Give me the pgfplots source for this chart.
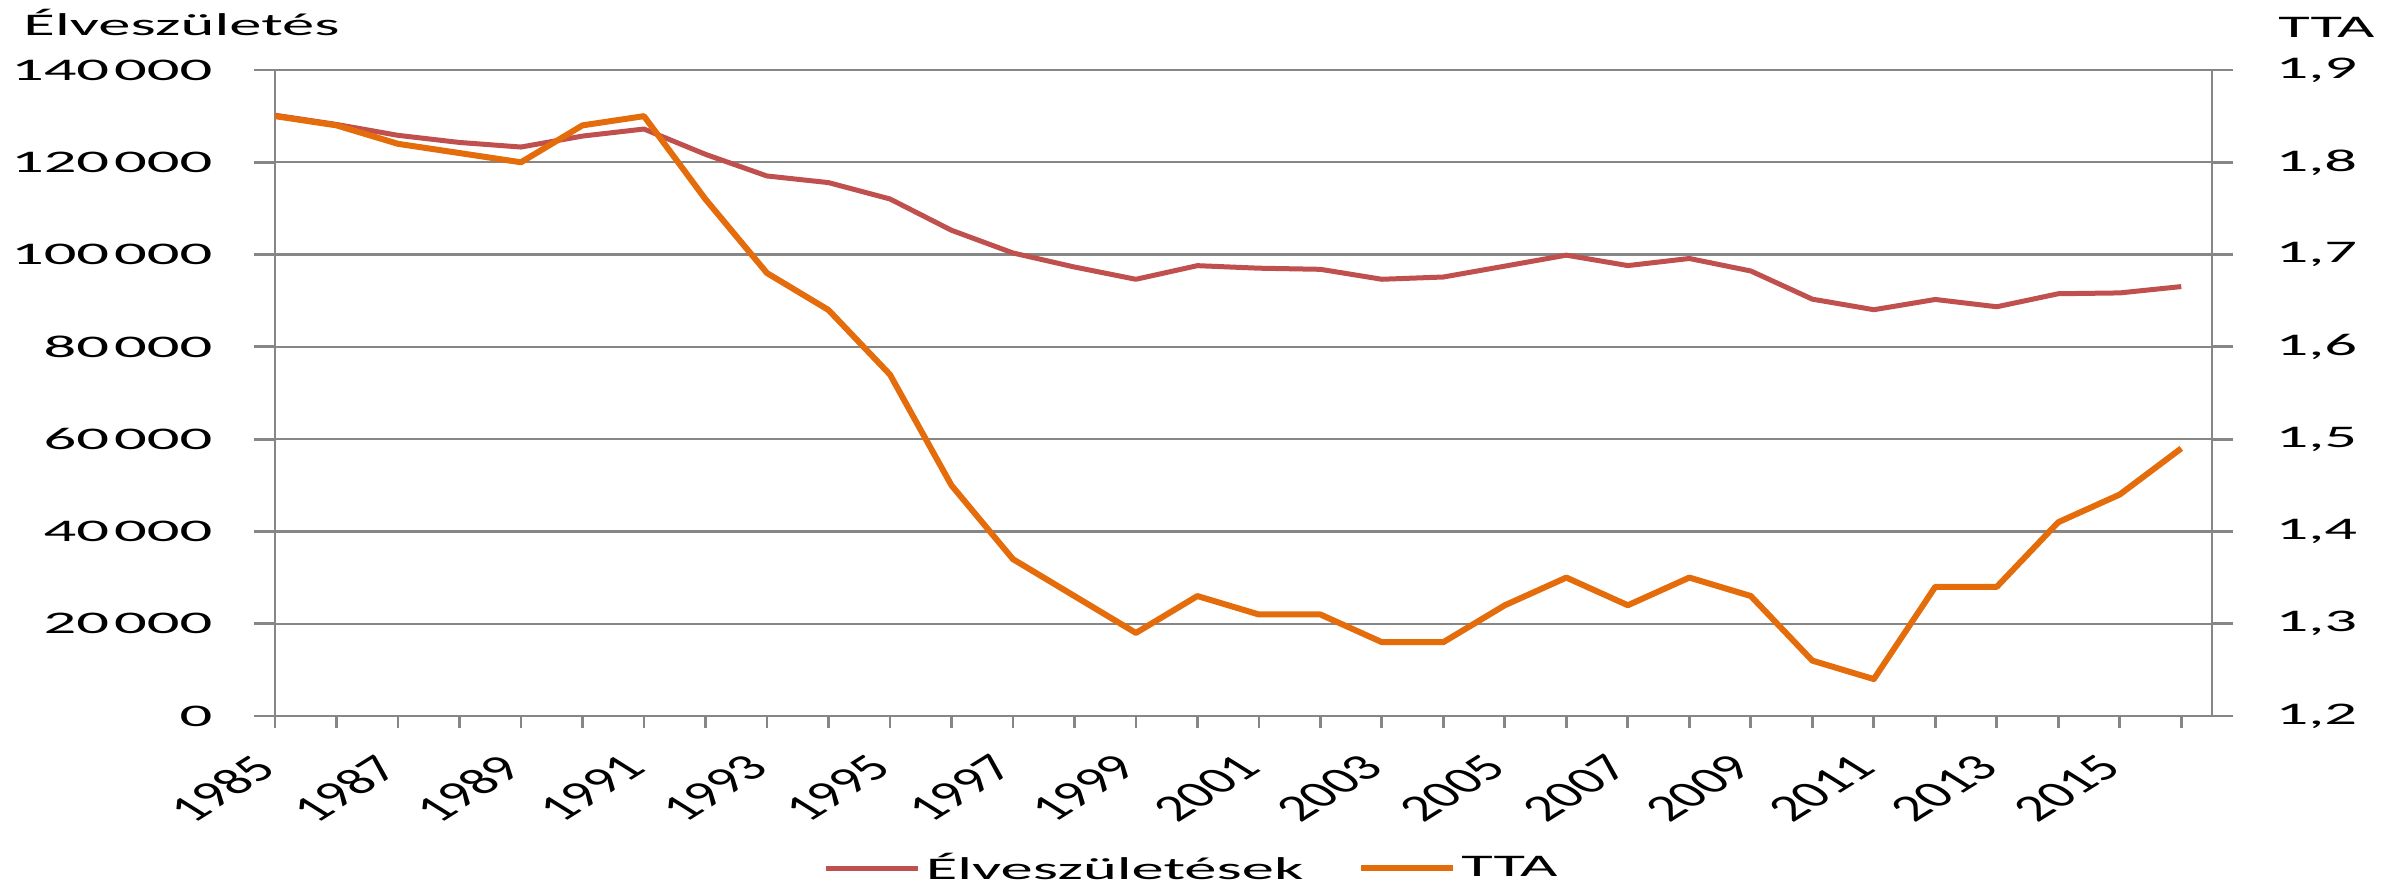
\documentclass[border=0pt]{standalone}
\usepackage{graphicx}
\usepackage{fontspec}
\setmainfont{Carlito}[FakeStretch=2.05]
\newfontfamily\plainfont{Carlito}
\usepackage{pgfplots}
\usepackage{pgfplotstable}
\pgfplotsset{compat=1.18}

\definecolor{births}{RGB}{192,80,77}
\definecolor{tta}{RGB}{228,108,10}
\definecolor{axgray}{RGB}{134,134,134}

% births and total fertility rate (TTA), Hungary
\pgfplotstableread{
year births tta
1985 130200 1.85
1986 128204 1.84
1987 125840 1.82
1988 124296 1.81
1989 123304 1.80
1990 125679 1.84
1991 127207 1.85
1992 121724 1.76
1993 117033 1.68
1994 115598 1.64
1995 112054 1.57
1996 105272 1.45
1997 100350 1.37
1998 97301 1.33
1999 94645 1.29
2000 97597 1.33
2001 97047 1.31
2002 96804 1.31
2003 94647 1.28
2004 95137 1.28
2005 97496 1.32
2006 99871 1.35
2007 97613 1.32
2008 99149 1.35
2009 96442 1.33
2010 90335 1.26
2011 88049 1.24
2012 90269 1.34
2013 88689 1.34
2014 91510 1.41
2015 91690 1.44
2016 93063 1.49
}\hudata

\newcommand{\ts}{\kern2pt}
% year label: turned 45 degrees, then widened like the rest of the chart
\newcommand{\yr}[1]{\scalebox{1.6}[1]{\rotatebox{45}{\plainfont\fontsize{15}{15}\selectfont #1}}}
\tikzset{ylab/.style={anchor=east,inner sep=0pt},
  xlab/.style={anchor=north east,inner sep=0pt}}

\begin{document}
\begin{tikzpicture}
\useasboundingbox (-110pt,-66.8pt) rectangle (844.8pt,286.4pt);
\pgfplotsset{base/.style={width=774.8pt,height=258.4pt,scale only axis,
  xmin=1985,xmax=2016.5,font=\fontsize{12.6}{14}\selectfont,
  /pgf/number format/assume math mode=true,
  axis line style={-,axgray,line width=1.1pt},tick style={axgray,line width=1.1pt},
  tick align=outside}}
% left axis, grid, births, legend
\begin{axis}[base,clip=false,ymin=0,ymax=140000,ytick={0,20000,...,140000},
  yticklabels=\empty,scaled y ticks=false,
  axis x line=none,axis y line*=left,major tick length=8.4pt,
  ymajorgrids,grid style={axgray,line width=0.9pt},
  ylabel={Élveszületés},
  every axis y label/.style={at={(rel axis cs:-0.1301,1.054)},anchor=base west,inner sep=0pt},
  legend columns=2,
  legend style={draw=none,fill=none,at={(0.474,-0.2353)},anchor=center,
    /tikz/every even column/.append style={column sep=20pt},inner sep=0pt,
    nodes={inner xsep=2pt}},
  legend image code/.code={\draw[#1] (0pt,0pt) -- (36.8pt,0pt);}]
\addplot[births,line width=2pt,line join=round] table[x=year,y=births] {\hudata};
\addlegendentry{Élveszületések}
\addlegendimage{tta,line width=2.4pt}
\addlegendentry{TTA}
\node[ylab] at (axis cs:1983.99,0) {0};
\node[ylab] at (axis cs:1983.99,20000) {20\ts000};
\node[ylab] at (axis cs:1983.99,40000) {40\ts000};
\node[ylab] at (axis cs:1983.99,60000) {60\ts000};
\node[ylab] at (axis cs:1983.99,80000) {80\ts000};
\node[ylab] at (axis cs:1983.99,100000) {100\ts000};
\node[ylab] at (axis cs:1983.99,120000) {120\ts000};
\node[ylab] at (axis cs:1983.99,140000) {140\ts000};
\end{axis}
% right axis, TTA
\begin{axis}[base,ymin=1.2,ymax=1.9,ytick={1.2,1.3,1.4,1.5,1.6,1.7,1.8,1.9},
  axis x line=none,axis y line*=right,major tick length=8.4pt,
  /pgf/number format/use comma,/pgf/number format/fixed,
  /pgf/number format/fixed zerofill,/pgf/number format/precision=1,
  y tick label style={anchor=west,inner sep=0pt},yticklabel shift=16.8pt,
  ylabel={TTA},
  every axis y label/.style={at={(rel axis cs:1.034,1.051)},anchor=base west,inner sep=0pt}]
\addplot[tta,line width=2.4pt,line join=round] table[x=year,y=tta] {\hudata};
\end{axis}
% x axis with year ticks
\begin{axis}[base,clip=false,ymin=0,ymax=1,axis y line=none,axis x line*=bottom,
  xtick={1985,1987,...,2015},minor xtick={1986,1988,...,2016},
  major tick length=4.8pt,minor tick length=4.8pt,xticklabels=\empty]
\pgfplotsinvokeforeach{1985,1987,...,2015}{\node[xlab] at (axis cs:{#1+0.081},-0.0557) {\yr{#1}};}
\end{axis}
\end{tikzpicture}
\end{document}
